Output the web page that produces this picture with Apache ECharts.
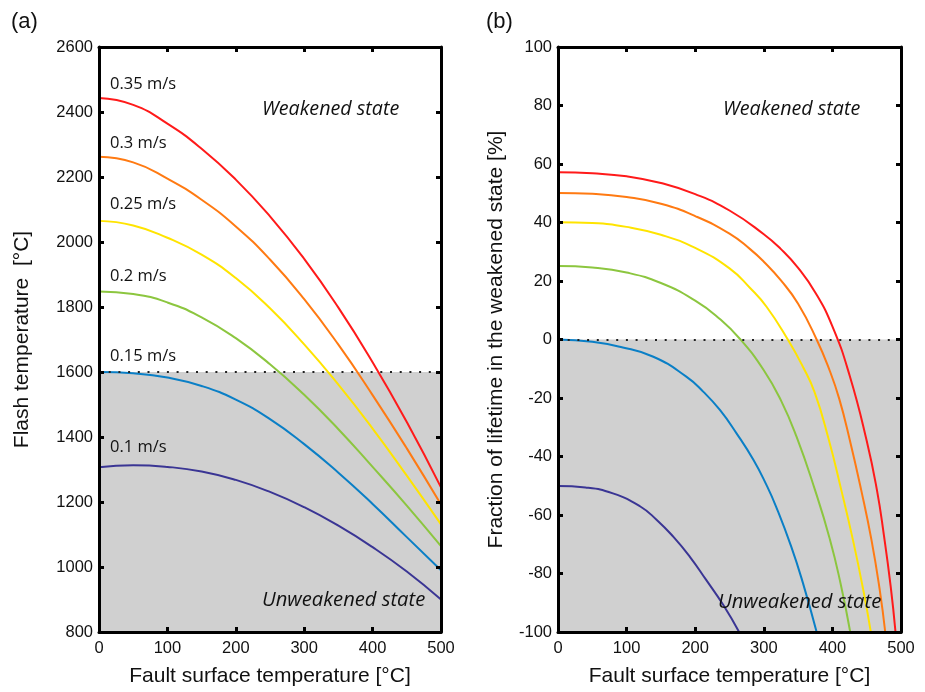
<!DOCTYPE html>
<html>
<head>
<meta charset="utf-8">
<script src="https://cdn.jsdelivr.net/npm/echarts@6/dist/echarts.min.js"></script>
<style>
html,body{margin:0;padding:0;background:#fff;}
#chart{width:925px;height:692px;}
</style>
</head>
<body>
<div id="chart"></div>
<script>
// ---------- data ----------
var speeds = ['0.35 m/s', '0.3 m/s', '0.25 m/s', '0.2 m/s', '0.15 m/s', '0.1 m/s'];
var colors = ['#ff1a1a', '#ff7a12', '#ffe400', '#8cc63f', '#0a7fc6', '#3a3594'];

// (a) flash temperature vs fault surface temperature
var surfT = [0, 50, 100, 150, 200, 250, 300, 350, 400, 450, 500];
var flash035 = [2443, 2422, 2364, 2287, 2192, 2079, 1948, 1798, 1630, 1446, 1245];
var flash030 = [2262, 2245, 2195, 2130, 2048, 1946, 1824, 1684, 1529, 1365, 1192];
var flash025 = [2065, 2051, 2013, 1961, 1889, 1796, 1685, 1561, 1426, 1281, 1131];
var flash020 = [1848, 1840, 1814, 1768, 1704, 1624, 1530, 1424, 1308, 1189, 1064];
var flash015 = [1600, 1596, 1583, 1557, 1515, 1455, 1378, 1290, 1194, 1092, 990];
var flash010 = [1307, 1313, 1308, 1294, 1268, 1231, 1184, 1127, 1061, 986, 900];

// (b) fraction of lifetime in weakened state [%]
var frac035 = [[0,57.2],[50,56.8],[100,55.8],[150,53.5],[200,49.7],[250,44.1],[300,36.0],[325,30.9],[350,24.5],[375,16.1],[400,4.5],[425,-12.2],[450,-34.6],[465,-51.6],[475,-66.8],[485,-84.5],[492,-100]];
var frac030 = [[0,50.1],[50,49.8],[100,48.7],[150,46.4],[200,42.2],[250,36.2],[280,30.9],[300,26.6],[325,20.2],[350,12.2],[377,0],[396,-10.6],[410,-20.3],[425,-34.0],[442,-51.5],[457,-68.6],[469,-85.6],[477,-100]];
var frac025 = [[0,40.1],[50,39.8],[100,38.5],[150,35.8],[200,31.3],[250,24.3],[280,17.6],[304,11.2],[335,0],[357,-9.3],[374,-18.0],[394,-33.6],[413,-51.5],[430,-68.6],[445,-85.6],[456,-100]];
var frac020 = [[0,25.1],[50,24.6],[100,22.9],[150,19.3],[200,13.3],[235,7.2],[266,0],[300,-10.5],[325,-20.8],[348,-33.4],[374,-51.0],[396,-68.0],[412,-83.5],[426,-100]];
var frac015 = [[0,0],[50,-0.8],[90,-2.5],[139,-5.9],[187,-12.7],[212,-17.9],[236,-24.1],[260,-32.0],[285,-41.2],[304,-49.8],[318,-57.2],[340,-70.8],[357,-83.2],[377,-100]];
var frac010 = [[0,-50.1],[40,-50.6],[80,-52.6],[120,-57.1],[144,-61.7],[168,-67.4],[192,-74.2],[216,-82.2],[241,-90.8],[264,-100]];

var flashSets = [flash035, flash030, flash025, flash020, flash015, flash010];
var fracSets = [frac035, frac030, frac025, frac020, frac015, frac010];

// ---------- style helpers ----------
var tickFont = 'Liberation Sans';
var annFont = 'Open Sans';
function axisBase(extra) {
  var a = {
    axisLine: {show: true, onZero: false, lineStyle: {color: '#000', width: 3}},
    axisTick: {show: true, inside: true, length: 5, lineStyle: {color: '#000', width: 3}},
    splitLine: {show: false},
    z: 10
  };
  for (var k in extra) a[k] = extra[k];
  return a;
}
function plain(v) { return String(v); }
var labelStyle = {color: '#111', fontSize: 16.5, fontFamily: tickFont, formatter: plain};
var nameStyle = {color: '#111', fontSize: 21, fontFamily: tickFont};

var grids = [
  {left: 99, top: 47, width: 342, height: 586},
  {left: 558, top: 47, width: 343, height: 586}
];

var xAxes = [
  axisBase({gridIndex: 0, type: 'value', position: 'bottom', min: 0, max: 500, interval: 100,
    axisLabel: Object.assign({margin: 8}, labelStyle),
    name: 'Fault surface temperature [°C]', nameLocation: 'middle', nameGap: 34, nameTextStyle: nameStyle}),
  axisBase({gridIndex: 0, type: 'value', position: 'top', min: 0, max: 500, interval: 100, axisLabel: {show: false}}),
  axisBase({gridIndex: 1, type: 'value', position: 'bottom', min: 0, max: 500, interval: 100,
    axisLabel: Object.assign({margin: 8}, labelStyle),
    name: 'Fault surface temperature [°C]', nameLocation: 'middle', nameGap: 34, nameTextStyle: nameStyle}),
  axisBase({gridIndex: 1, type: 'value', position: 'top', min: 0, max: 500, interval: 100, axisLabel: {show: false}})
];
var yAxes = [
  axisBase({gridIndex: 0, type: 'value', position: 'left', min: 800, max: 2600, interval: 200,
    axisLabel: Object.assign({margin: 6}, labelStyle),
    name: 'Flash temperature  [°C]', nameLocation: 'middle', nameGap: 66, nameTextStyle: nameStyle}),
  axisBase({gridIndex: 0, type: 'value', position: 'right', min: 800, max: 2600, interval: 200, axisLabel: {show: false}}),
  axisBase({gridIndex: 1, type: 'value', position: 'left', min: -100, max: 100, interval: 20,
    axisLabel: Object.assign({margin: 6}, labelStyle),
    name: 'Fraction of lifetime in the weakened state [%]', nameLocation: 'middle', nameGap: 51, nameTextStyle: nameStyle}),
  axisBase({gridIndex: 1, type: 'value', position: 'right', min: -100, max: 100, interval: 20, axisLabel: {show: false}})
];

var series = [];
// shaded "unweakened" regions + threshold dotted lines
series.push({
  type: 'line', xAxisIndex: 0, yAxisIndex: 0, data: [], z: 1, silent: true,
  markArea: {silent: true, itemStyle: {color: '#d0d0d0'}, data: [[{xAxis: 0, yAxis: 800}, {xAxis: 500, yAxis: 1600}]]},
  markLine: {silent: true, symbol: 'none', label: {show: false},
    lineStyle: {color: '#222', width: 2, type: [2, 7.7]}, data: [{yAxis: 1600}]}
});
series.push({
  type: 'line', xAxisIndex: 2, yAxisIndex: 2, data: [], z: 1, silent: true,
  markArea: {silent: true, itemStyle: {color: '#d0d0d0'}, data: [[{xAxis: 0, yAxis: -100}, {xAxis: 500, yAxis: 0}]]},
  markLine: {silent: true, symbol: 'none', label: {show: false},
    lineStyle: {color: '#222', width: 2, type: [2, 7.7]}, data: [{yAxis: 0}]}
});

for (var i = 0; i < speeds.length; i++) {
  var pts = [];
  for (var j = 0; j < surfT.length; j++) pts.push([surfT[j], flashSets[i][j]]);
  series.push({
    name: speeds[i], type: 'line', xAxisIndex: 0, yAxisIndex: 0, data: pts,
    showSymbol: false, smooth: 0.5, z: 3,
    lineStyle: {color: colors[i], width: 2}, itemStyle: {color: colors[i]}
  });
  series.push({
    name: speeds[i], type: 'line', xAxisIndex: 2, yAxisIndex: 2, data: fracSets[i],
    showSymbol: false, smooth: 0.5, z: 3, clip: true,
    lineStyle: {color: colors[i], width: 2}, itemStyle: {color: colors[i]}
  });
}

function txt(t, x, y, size, family, italic, align) {
  return {type: 'text', x: x, y: y, z: 20, silent: true,
    style: {text: t, fontSize: size, fontFamily: family, fontStyle: italic ? 'italic' : 'normal',
      fill: '#111', verticalAlign: 'middle', align: align || 'left'}};
}
var speedLabelY = [84, 143, 204, 276, 356, 447];
var graphics = [
  txt('(a)', 11, 22, 22, tickFont, false),
  txt('(b)', 486, 22, 22, tickFont, false),
  txt('Weakened state', 262, 109, 19.7, annFont, true),
  txt('Unweakened state', 262, 600, 20.2, annFont, true),
  txt('Weakened state', 723, 109, 19.7, annFont, true),
  txt('Unweakened state', 718, 602, 20.2, annFont, true)
];
for (var s = 0; s < speeds.length; s++) graphics.push(txt(speeds[s], 110, speedLabelY[s], 16.5, annFont, false));

var chart = echarts.init(document.getElementById('chart'), null, {renderer: 'canvas'});
chart.setOption({
  backgroundColor: '#fff',
  animation: false,
  grid: grids,
  xAxis: xAxes,
  yAxis: yAxes,
  series: series,
  graphic: graphics
});
</script>
</body>
</html>
